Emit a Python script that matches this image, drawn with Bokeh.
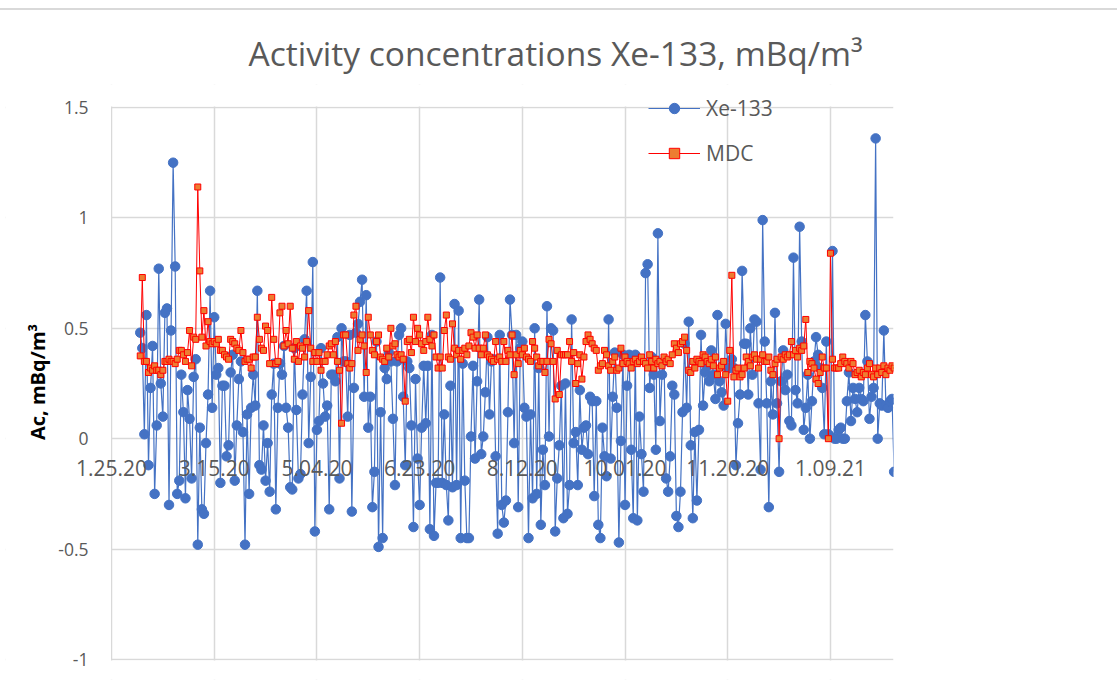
from datetime import datetime, timedelta
from bokeh.plotting import figure
from bokeh.layouts import column
from bokeh.core.properties import value
from bokeh.models import ColumnDataSource, Range1d, FixedTicker, Legend, LegendItem, BoxAnnotation, Div
from bokeh.embed import file_html
from bokeh.resources import INLINE

# ---------------- data ----------------
start_date = datetime(2020, 2, 8)

xe_133 = [
    0.48, 0.41, 0.02, 0.56, -0.12, 0.23, 0.42, -0.25, 0.06, 0.77,
    0.25, 0.10, 0.57, 0.59, -0.30, 0.49, 1.25, 0.78, -0.25, -0.19,
    0.29, 0.12, -0.27, 0.22, 0.09, -0.18, 0.28, 0.36, -0.48, 0.05,
    -0.32, -0.34, -0.02, 0.20, 0.67, 0.14, 0.55, 0.29, 0.32, -0.20,
    0.24, 0.24, -0.08, -0.03, 0.30, 0.38, -0.19, 0.06, 0.27, 0.35,
    0.03, -0.48, 0.11, -0.25, 0.14, 0.29, 0.15, 0.67, -0.12, -0.14,
    0.06, -0.19, -0.02, -0.24, 0.20, 0.34, -0.32, 0.14, 0.34, 0.29,
    0.42, 0.14, 0.05, -0.22, -0.23, 0.41, 0.13, -0.18, -0.16, 0.20,
    0.45, 0.67, -0.02, 0.28, 0.80, -0.42,
    0.04, 0.08, 0.41, 0.25, 0.10, 0.15, -0.32, 0.29, 0.29, 0.26,
    0.46, -0.18, 0.50, 0.35, 0.35, 0.10, 0.47, -0.33, 0.23, 0.48,
    0.52, 0.62, 0.72, 0.19, 0.65, 0.05, 0.19, -0.31, -0.15, 0.44,
    -0.49, 0.12, -0.45, 0.32, 0.27, 0.39, 0.35, 0.09, -0.21, 0.35,
    0.47, 0.50, 0.19, -0.12, 0.35, 0.32, 0.06, -0.40, 0.27, -0.09,
    -0.30, 0.05, 0.33, 0.07, 0.33, -0.41, 0.47, -0.44, -0.20, -0.20,
    0.73, -0.20, 0.11, -0.21, -0.37, 0.24, -0.22, 0.61, -0.21, 0.58,
    -0.45, 0.34, -0.19, -0.45, -0.45, 0.01, 0.33, -0.09, 0.26, 0.63,
    -0.07, 0.01, 0.21, 0.46, 0.11, 0.35, 0.36, -0.08, -0.43, 0.47,
    -0.30, -0.38, -0.28, 0.12, 0.63, 0.47, -0.02, 0.47, -0.31, 0.41,
    0.44, 0.14, 0.10, -0.45, 0.11, -0.27, 0.50, -0.25, 0.32, -0.39,
    -0.05, -0.21, 0.60, 0.01, 0.50, 0.49, -0.42, -0.18, -0.03, 0.24,
    -0.36, 0.25, -0.34, -0.21, 0.54, -0.02, 0.03, -0.21, 0.22, -0.05,
    0.05, 0.06, -0.07, 0.19, 0.17, -0.26, 0.17, -0.39, -0.45, 0.05,
    -0.08, -0.17, 0.54, -0.09, 0.19, 0.39, 0.14, -0.47, -0.01, 0.38,
    -0.30, 0.24, 0.38, -0.05, -0.36, 0.38, -0.37, 0.10, -0.07, -0.24,
    0.75, 0.79, 0.23, 0.37, 0.29, -0.05, 0.93, 0.08, 0.29, 0.35,
    -0.18, -0.24, -0.08, 0.24, 0.20, -0.35, -0.40, -0.24, 0.12, 0.43,
    0.14, 0.53, -0.03, -0.36, 0.03,
    -0.28, 0.04, 0.47, 0.15, 0.30, 0.33, 0.26, 0.40, 0.29, 0.18,
    0.56, 0.26, 0.21, 0.15, 0.52, 0.32, 0.32, 0.36, 0.32, -0.12,
    0.07, 0.20, 0.76, 0.43, 0.43, 0.20, 0.50, 0.29, 0.54, 0.53,
    0.16, -0.14, 0.99, 0.44, 0.16, -0.31, 0.26, 0.11, 0.57, 0.16,
    -0.15, 0.26, 0.40, 0.22, 0.29, 0.08, 0.06, 0.82, 0.22, 0.16,
    0.96, 0.44, 0.04, 0.14, 0.29, 0.00, 0.17, 0.35, 0.46, 0.38,
    0.32, 0.23, 0.02, 0.44, 0.02, 0.01, 0.85, 0.00, 0.00, 0.04,
    0.05, 0.00, 0.00, 0.17, 0.30, 0.08, 0.23, 0.18, 0.12, 0.23,
    0.18, 0.17, 0.56, 0.35, 0.09, 0.19, 0.23, 1.36, 0.00, 0.16,
    0.15, 0.49, 0.15, 0.14, 0.17, 0.18, -0.15,
]

mdc = [
    0.375, 0.73, 0.35, 0.35, 0.30, 0.32, 0.31, 0.33, 0.31, 0.31,
    0.29, 0.31, 0.35, 0.35, 0.36, 0.35, 0.35, 0.34, 0.36, 0.40,
    0.40, 0.38, 0.35, 0.39, 0.49, 0.33, 0.46, 0.45, 1.14, 0.76,
    0.46, 0.58, 0.42, 0.53, 0.44, 0.43, 0.44, 0.43, 0.45, 0.40,
    0.40, 0.38, 0.37, 0.36, 0.45, 0.44, 0.43, 0.41, 0.40, 0.49,
    0.39, 0.35, 0.36, 0.36, 0.32, 0.37, 0.37, 0.55, 0.45, 0.41,
    0.40, 0.51, 0.49, 0.34, 0.64, 0.45, 0.34, 0.35, 0.57, 0.60,
    0.42, 0.49, 0.43, 0.60, 0.41, 0.36, 0.44, 0.35, 0.42, 0.41,
    0.37, 0.44, 0.58, 0.41, 0.35, 0.39,
    0.35, 0.39, 0.31, 0.35, 0.35, 0.38, 0.42, 0.43, 0.38, 0.44,
    0.35, 0.31, 0.07, 0.47, 0.47, 0.34, 0.32, 0.34, 0.56, 0.60,
    0.40, 0.45, 0.47, 0.42, 0.30, 0.55, 0.47, 0.40, 0.38, 0.44,
    0.47, 0.37, 0.36, 0.35, 0.41, 0.37, 0.50, 0.42, 0.43, 0.38,
    0.37, 0.38, 0.36, 0.17, 0.44, 0.45, 0.39, 0.55, 0.44, 0.50,
    0.47, 0.43, 0.40, 0.44, 0.55, 0.45, 0.42, 0.47, 0.37, 0.32,
    0.37, 0.32, 0.49, 0.56, 0.37, 0.36, 0.52, 0.41, 0.38, 0.40,
    0.36, 0.40, 0.41, 0.38, 0.42, 0.48, 0.46, 0.41, 0.47, 0.41,
    0.38, 0.41, 0.47, 0.38, 0.37, 0.36, 0.35, 0.44, 0.36, 0.37,
    0.35, 0.44, 0.35, 0.40, 0.38, 0.47, 0.29, 0.38, 0.34, 0.40,
    0.38, 0.41, 0.37, 0.36, 0.35, 0.44, 0.41, 0.37, 0.33, 0.35,
    0.35, 0.30, 0.35, 0.45, 0.43, 0.35, 0.18, 0.40, 0.20, 0.38,
    0.38, 0.38, 0.38, 0.44, 0.35, 0.39, 0.25, 0.34, 0.38, 0.27,
    0.37, 0.44, 0.47, 0.45, 0.43, 0.41, 0.40, 0.31, 0.33, 0.34,
    0.40, 0.38, 0.33, 0.31, 0.35, 0.37, 0.31, 0.32, 0.41, 0.34,
    0.37, 0.35, 0.34, 0.32, 0.35, 0.36, 0.34, 0.35, 0.37, 0.35,
    0.34, 0.32, 0.38, 0.35, 0.32, 0.36, 0.34, 0.35, 0.33, 0.37,
    0.35, 0.36, 0.34, 0.38, 0.43, 0.41, 0.39, 0.43, 0.44, 0.46,
    0.40, 0.31, 0.30, 0.35, 0.32,
    0.36, 0.35, 0.34, 0.38, 0.37, 0.35, 0.34, 0.36, 0.33, 0.37,
    0.29, 0.32, 0.33, 0.35, 0.29, 0.17, 0.40, 0.74,
    0.28, 0.31, 0.32, 0.28, 0.29, 0.32, 0.37, 0.35, 0.33, 0.37,
    0.38, 0.36, 0.32, 0.36, 0.38, 0.35, 0.35, 0.37, 0.31, 0.29,
    0.34, 0.36, 0.00,
    0.37, 0.36, 0.38, 0.37, 0.38, 0.44, 0.38, 0.40, 0.37, 0.41,
    0.40, 0.42, 0.54, 0.30, 0.35, 0.34, 0.32, 0.27, 0.25, 0.30,
    0.37, 0.32, 0.32, 0.00, 0.84,
    0.36, 0.32, 0.32, 0.32, 0.34, 0.37, 0.35, 0.34, 0.32, 0.35,
    0.34, 0.29, 0.30, 0.31, 0.28, 0.30, 0.29, 0.32, 0.34, 0.29,
    0.28, 0.32, 0.29, 0.32, 0.30, 0.33, 0.29, 0.32, 0.31, 0.33,
    0.32,
]

tick_dates = [datetime(2020, 1, 25), datetime(2020, 3, 15), datetime(2020, 5, 4),
              datetime(2020, 6, 23), datetime(2020, 8, 12), datetime(2020, 10, 1),
              datetime(2020, 11, 20), datetime(2021, 1, 9)]
tick_labels = ["1.25.20", "3.15.20", "5.04.20", "6.23.20", "8.12.20",
               "10.01.20", "11.20.20", "1.09.21"]
y_ticks = [-1, -0.5, 0, 0.5, 1, 1.5]
y_tick_labels = ["-1", "-0.5", "0", "0.5", "1", "1.5"]
y_min, y_max = -1, 1.5

# ---------------- layout constants (page pixels) ----------------
W, H = 1117, 684
TOP_BAND = 10                      # height of the top strip holding the border line
AX_LEFT, AX_RIGHT, AX_TOP, AX_BOTTOM = 111, 893, 107, 659   # plotting area
FR_LEFT, FR_TOP, FR_BOTTOM = 5, 84, 679                      # drawing frame
px_per_day = (AX_RIGHT - AX_LEFT) / 380.7
px_per_unit = (AX_BOTTOM - AX_TOP) / (y_max - y_min)

epoch = datetime(1970, 1, 1)
def ms(d):
    return (d - epoch).total_seconds() * 1000.0

x_axis_start = tick_dates[0]
x_lo = x_axis_start - timedelta(days=(AX_LEFT - FR_LEFT) / px_per_day)
x_hi = x_axis_start + timedelta(days=(AX_RIGHT - AX_LEFT) / px_per_day)
y_hi = y_max + (AX_TOP - FR_TOP) / px_per_unit
y_lo = y_min - (FR_BOTTOM - AX_BOTTOM) / px_per_unit

xe_src = ColumnDataSource(dict(
    x=[start_date + timedelta(days=i) for i in range(len(xe_133))], y=xe_133))
md_src = ColumnDataSource(dict(
    x=[start_date + timedelta(days=i) for i in range(len(mdc))], y=mdc))
ylab_src = ColumnDataSource(dict(
    x=[x_axis_start] * len(y_ticks), y=y_ticks, text=y_tick_labels))

FH = H - TOP_BAND
p = figure(width=W, height=FH, x_axis_type="datetime",
           output_backend="svg", toolbar_location=None,
           x_range=Range1d(x_lo, x_hi), y_range=Range1d(y_lo, y_hi),
           min_border_left=FR_LEFT, min_border_right=W - AX_RIGHT,
           min_border_top=FR_TOP - TOP_BAND, min_border_bottom=H - FR_BOTTOM,
           title="Activity concentrations Xe-133, mBq/m³")
p.outline_line_color = None
p.background_fill_color = "white"
p.border_fill_color = "white"

FONT = "Open Sans"
GREY = "#595959"
GRID = "#d9d9d9"

p.title.align = "left"
p.title.offset = 248 - FR_LEFT
p.title.standoff = 17
p.title.text_font = FONT
p.title.text_font_style = "normal"
p.title.text_font_size = "33.5px"
p.title.text_color = GREY

xt = FixedTicker(ticks=[ms(d) for d in tick_dates])
p.xaxis.ticker = xt
p.xgrid.ticker = xt
p.xaxis.major_label_overrides = {ms(d): lab for d, lab in zip(tick_dates, tick_labels)}
p.xaxis.fixed_location = 0
p.xaxis.axis_line_color = None
p.xaxis.major_tick_line_color = None
p.xaxis.minor_tick_line_color = None
p.xaxis.major_label_standoff = 15
p.xaxis.major_label_text_font = FONT
p.xaxis.major_label_text_font_size = "21px"
p.xaxis.major_label_text_color = GREY

yt = FixedTicker(ticks=y_ticks)
p.yaxis.ticker = yt
p.ygrid.ticker = yt
p.yaxis.fixed_location = ms(x_axis_start)
# tick labels are drawn right-aligned as text below; the axis keeps ticks + title
p.yaxis.major_label_overrides = {v: "" for v in y_ticks}
p.yaxis.axis_line_color = None
p.yaxis.major_tick_line_color = None
p.yaxis.minor_tick_line_color = None
p.yaxis.major_label_standoff = 23
p.yaxis.axis_label = "Ac, mBq/m³"
p.yaxis.axis_label_text_font = FONT
p.yaxis.axis_label_text_font_style = "bold"
p.yaxis.axis_label_text_font_size = "20px"
p.yaxis.axis_label_text_color = "#000000"
p.yaxis.axis_label_standoff = 55

for g in (p.xgrid, p.ygrid):
    g.grid_line_color = GRID
    g.grid_line_width = 1.5

# white masks so that the grid only covers the plotting area
day_ms = 86400000.0
p.add_layout(BoxAnnotation(right=ms(x_axis_start) - 0.5 / px_per_day * day_ms,
                           fill_color="white", fill_alpha=1, line_color=None,
                           level="underlay"))
p.add_layout(BoxAnnotation(bottom=y_max + 1.0 / px_per_unit,
                           fill_color="white", fill_alpha=1, line_color=None,
                           level="underlay"))
p.add_layout(BoxAnnotation(top=y_min - 1.0 / px_per_unit,
                           fill_color="white", fill_alpha=1, line_color=None,
                           level="underlay"))

# right-aligned value labels of the vertical axis
p.text("x", "y", text="text", source=ylab_src, x_offset=-23,
       text_align="right", text_baseline="middle",
       text_font=value(FONT), text_font_size="17.5px", text_color=GREY)

BLUE = "#4472C4"
l1 = p.line("x", "y", source=xe_src, line_color=BLUE, line_width=1.2)
s1 = p.scatter("x", "y", source=xe_src, marker="circle", size=9.5,
               fill_color=BLUE, line_color=BLUE)
l2 = p.line("x", "y", source=md_src, line_color="#FF0000", line_width=1)
s2 = p.scatter("x", "y", source=md_src, marker="square", size=6,
               fill_color="#ED7D31", line_color="#FF0000", line_width=1)

legend = Legend(items=[LegendItem(label="Xe-133", renderers=[l1, s1]),
                       LegendItem(label="MDC", renderers=[l2, s2])],
                location=(648 - FR_LEFT, FR_BOTTOM - 167), orientation="vertical")
legend.border_line_color = None
legend.background_fill_alpha = 0
legend.padding = 0
legend.margin = 0
legend.glyph_width = 52
legend.glyph_height = 26
legend.label_height = 26
legend.spacing = 17
legend.label_standoff = 6
legend.label_text_font = FONT
legend.label_text_font_size = "21px"
legend.label_text_color = GREY
p.add_layout(legend)

top_line = Div(text="", width=W, height=TOP_BAND, margin=0,
               styles={"border-bottom": "2px solid #d9d9d9", "box-sizing": "border-box"})
page = column(top_line, p, spacing=0)

open("out.html", "w").write(file_html(page, INLINE))
